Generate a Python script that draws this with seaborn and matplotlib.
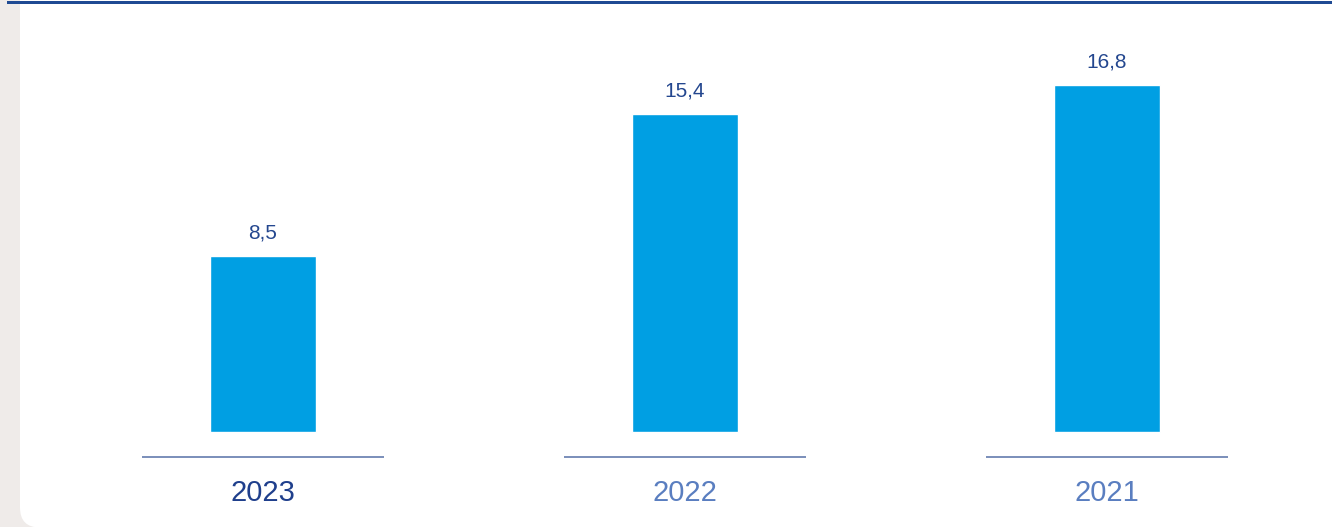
import matplotlib
matplotlib.use("Agg")
import matplotlib.pyplot as plt
import seaborn as sns
import pandas as pd
from matplotlib.patches import FancyBboxPatch, Rectangle
from matplotlib.transforms import Affine2D

categories = ["2023", "2022", "2021"]
values = [8.5, 15.4, 16.8]
value_labels = ["8,5", "15,4", "16,8"]
label_colors = ["#1f3f8c", "#5a7ec0", "#5a7ec0"]

sns.set_theme(style="white")
plt.rcParams["font.family"] = ["Liberation Sans", "DejaVu Sans"]

W, H = 1332, 527
fig = plt.figure(figsize=(W / 100, H / 100), dpi=100)
fig.patch.set_facecolor("#efebe9")

pix = Affine2D().scale(1 / W, 1 / H) + fig.transFigure
# white panel with rounded bottom-left corner
panel = FancyBboxPatch((20, -0.5), W + 60, H + 60,
                       boxstyle="round,pad=0,rounding_size=20",
                       transform=pix, facecolor="white",
                       edgecolor="none", zorder=-3)
fig.patches.append(panel)
# top rule
fig.patches.append(Rectangle((7, H - 4), W, 3, transform=pix,
                             facecolor="#1f4a93", edgecolor="none", zorder=-2))

ax = fig.add_axes([0, 0, 1, 1])
ax.set_facecolor("none")
ax.set_zorder(2)
df = pd.DataFrame({"year": categories, "value": values})
sns.barplot(data=df, x="year", y="value", order=categories,
            color="#009fe3", saturation=1, width=0.251, ax=ax)

px_per_unit = 20.65
spacing = 422
ax.set_xlim(-(263 - 0) / spacing, 2 + (W - 1107) / spacing)
ax.set_ylim(-(H - 432) / px_per_unit, 432 / px_per_unit)
ax.axis("off")

xt = ax.get_xaxis_transform()
for i, (lab, vl, c) in enumerate(zip(categories, value_labels, label_colors)):
    v = values[i]
    ax.text(i, v + 23 / px_per_unit, vl, ha="center", va="center",
            fontsize=15, color="#24478f")
    ax.plot([i - 0.287, i + 0.287], [1 - 457 / H] * 2, transform=xt,
            color="#6f86b4", lw=1.3, solid_capstyle="butt")
    ax.text(i, 1 - 493 / H, lab, transform=xt, ha="center", va="center",
            fontsize=21, color=c)

fig.savefig("out.png", dpi=100, facecolor=fig.get_facecolor())
